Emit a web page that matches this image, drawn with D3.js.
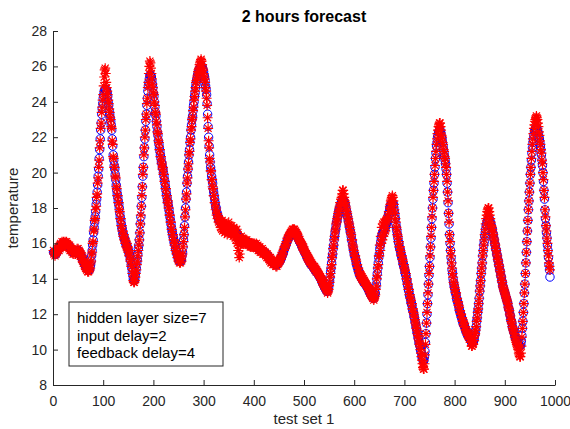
<!DOCTYPE html>
<html><head><meta charset="utf-8">
<script src="https://cdn.jsdelivr.net/npm/d3@7"></script>
<style>html,body{margin:0;padding:0;background:#fff;}svg{display:block;}</style>
</head><body>
<script>
const titleText = "2 hours forecast";
const xLabel = "test set 1";
const yLabel = "temperature";
const legendLines = ["hidden layer size=7", "input delay=2", "feedback delay=4"];
const xTicks = [0,100,200,300,400,500,600,700,800,900,1000];
const yTicks = [8,10,12,14,16,18,20,22,24,26,28];

// target (blue circles), one value per test sample 1..990
const target = [
15.5,15.5,15.5,15.4,15.4,15.4,15.5,15.5,15.6,15.6,
15.7,15.7,15.8,15.8,15.9,15.9,15.9,16.0,16.0,16.0,
16.0,16.0,16.0,16.0,16.0,16.0,16.0,15.9,15.9,15.9,
15.9,15.8,15.8,15.7,15.7,15.7,15.6,15.6,15.5,15.5,
15.5,15.5,15.5,15.5,15.5,15.5,15.5,15.6,15.6,15.6,
15.6,15.5,15.5,15.4,15.4,15.3,15.2,15.2,15.1,15.0,
15.0,14.9,14.8,14.8,14.7,14.7,14.6,14.6,14.5,14.5,
14.5,14.5,14.5,14.7,14.8,15.0,15.3,15.6,15.9,16.2,
16.6,16.9,17.2,17.5,17.8,18.2,18.5,18.9,19.3,19.8,
20.2,20.8,21.3,21.9,22.4,22.8,23.3,23.6,23.9,24.2,
24.4,24.6,24.7,24.7,24.7,24.7,24.6,24.5,24.3,24.0,
23.8,23.5,23.3,23.1,22.9,22.7,22.4,21.9,21.5,21.0,
20.7,20.4,20.2,19.9,19.6,19.3,19.0,18.8,18.6,18.4,
18.2,18.0,17.7,17.5,17.3,17.1,16.9,16.8,16.6,16.5,
16.4,16.3,16.2,16.1,16.0,15.9,15.9,15.8,15.7,15.6,
15.5,15.4,15.3,15.1,15.0,14.8,14.6,14.4,14.2,14.0,
13.9,13.9,14.0,14.2,14.4,14.6,14.9,15.1,15.4,15.7,
15.9,16.2,16.6,17.1,17.5,18.1,18.6,19.2,19.8,20.3,
20.9,21.4,21.9,22.4,22.9,23.3,23.8,24.2,24.6,24.9,
25.1,25.3,25.5,25.5,25.5,25.4,25.2,25.0,24.8,24.5,
24.3,24.0,23.7,23.4,23.2,22.9,22.6,22.3,22.1,21.8,
21.6,21.4,21.2,21.0,20.8,20.6,20.5,20.3,20.2,20.0,
19.8,19.6,19.4,19.2,19.0,18.8,18.6,18.4,18.3,18.1,
17.9,17.7,17.5,17.3,17.1,16.9,16.7,16.6,16.4,16.3,
16.1,16.0,15.9,15.7,15.6,15.5,15.4,15.3,15.2,15.1,
15.0,15.0,15.0,15.0,15.0,15.1,15.3,15.5,15.8,16.2,
16.5,17.0,17.5,18.0,18.5,18.9,19.4,19.8,20.2,20.6,
21.0,21.3,21.7,22.0,22.4,22.7,23.0,23.2,23.5,23.8,
24.0,24.3,24.5,24.8,25.0,25.2,25.3,25.5,25.6,25.7,
25.8,25.9,25.9,26.0,26.0,26.0,26.0,25.9,25.8,25.7,
25.5,25.4,25.2,24.9,24.7,24.4,23.9,23.3,22.6,22.0,
21.5,21.0,20.6,20.3,20.1,19.8,19.6,19.4,19.1,18.9,
18.7,18.5,18.3,18.1,18.0,17.8,17.7,17.6,17.5,17.4,
17.3,17.3,17.2,17.2,17.1,17.1,17.1,17.0,17.0,17.0,
17.0,17.0,16.9,16.9,16.9,16.9,16.9,16.9,16.9,16.9,
16.9,16.9,16.8,16.8,16.8,16.8,16.8,16.7,16.7,16.7,
16.7,16.7,16.6,16.6,16.6,16.6,16.5,16.5,16.4,16.4,
16.4,16.3,16.3,16.2,16.2,16.2,16.2,16.1,16.1,16.1,
16.1,16.1,16.1,16.1,16.1,16.1,16.0,16.0,16.0,16.0,
16.0,16.0,15.9,15.9,15.9,15.9,15.9,15.9,15.9,15.9,
15.9,15.9,15.9,15.9,15.9,15.8,15.8,15.8,15.7,15.7,
15.7,15.7,15.6,15.6,15.6,15.6,15.6,15.5,15.5,15.5,
15.5,15.5,15.4,15.4,15.4,15.3,15.3,15.3,15.2,15.2,
15.2,15.1,15.1,15.0,15.0,15.0,15.0,14.9,14.9,14.9,
14.9,14.9,14.8,14.8,14.8,14.8,14.8,14.9,14.9,14.9,
15.0,15.0,15.1,15.1,15.2,15.3,15.4,15.4,15.5,15.6,
15.7,15.8,15.8,15.9,16.0,16.1,16.2,16.2,16.3,16.4,
16.4,16.5,16.5,16.6,16.6,16.6,16.6,16.7,16.7,16.7,
16.7,16.6,16.6,16.5,16.5,16.4,16.4,16.3,16.3,16.2,
16.1,16.1,16.0,16.0,15.9,15.8,15.8,15.7,15.7,15.6,
15.5,15.5,15.4,15.4,15.3,15.2,15.2,15.1,15.1,15.0,
15.0,14.9,14.9,14.8,14.8,14.8,14.7,14.7,14.6,14.6,
14.6,14.5,14.5,14.4,14.4,14.4,14.3,14.3,14.2,14.2,
14.1,14.1,14.0,14.0,13.9,13.8,13.8,13.7,13.7,13.6,
13.5,13.5,13.4,13.4,13.3,13.3,13.3,13.4,13.5,13.7,
13.9,14.1,14.4,14.6,14.9,15.2,15.4,15.7,15.9,16.2,
16.4,16.6,16.8,17.0,17.2,17.3,17.5,17.6,17.8,17.9,
18.0,18.1,18.2,18.3,18.3,18.4,18.4,18.4,18.4,18.3,
18.3,18.2,18.1,17.9,17.8,17.6,17.5,17.3,17.2,17.0,
16.9,16.7,16.6,16.4,16.2,16.1,15.9,15.7,15.6,15.4,
15.3,15.2,15.1,14.9,14.8,14.7,14.6,14.5,14.4,14.3,
14.2,14.2,14.1,14.1,14.0,14.0,13.9,13.9,13.8,13.8,
13.8,13.7,13.7,13.6,13.6,13.5,13.5,13.4,13.4,13.3,
13.2,13.2,13.1,13.1,13.0,13.0,13.0,12.9,12.9,13.0,
13.1,13.2,13.5,13.7,14.0,14.3,14.6,14.9,15.2,15.4,
15.7,15.9,16.1,16.3,16.4,16.5,16.6,16.7,16.7,16.8,
16.9,16.9,17.0,17.1,17.2,17.3,17.4,17.6,17.7,17.8,
18.0,18.1,18.2,18.2,18.3,18.3,18.3,18.2,18.0,17.8,
17.6,17.4,17.1,16.9,16.7,16.5,16.3,16.1,16.0,15.8,
15.7,15.6,15.4,15.3,15.2,15.1,14.9,14.8,14.7,14.6,
14.4,14.3,14.2,14.0,13.9,13.7,13.6,13.4,13.3,13.1,
13.0,12.9,12.7,12.6,12.5,12.3,12.2,12.1,11.9,11.8,
11.6,11.5,11.3,11.2,11.0,10.9,10.7,10.6,10.4,10.3,
10.2,10.0,9.9,9.8,9.6,9.5,9.4,9.4,9.4,9.6,
9.9,10.4,10.9,11.5,12.0,12.6,13.1,13.7,14.2,14.7,
15.2,15.8,16.3,16.9,17.4,18.0,18.5,19.0,19.4,19.9,
20.3,20.8,21.1,21.5,21.7,22.0,22.1,22.3,22.3,22.4,
22.4,22.3,22.2,22.0,21.9,21.7,21.5,21.3,21.1,20.9,
20.7,20.5,20.2,19.9,19.4,18.9,18.3,17.7,17.1,16.5,
16.0,15.6,15.2,14.9,14.5,14.3,14.0,13.8,13.6,13.5,
13.3,13.2,13.1,12.9,12.8,12.7,12.6,12.5,12.3,12.2,
12.1,12.0,11.9,11.8,11.7,11.6,11.5,11.4,11.4,11.3,
11.2,11.1,11.0,11.0,10.9,10.8,10.8,10.7,10.7,10.6,
10.6,10.5,10.5,10.4,10.4,10.4,10.4,10.5,10.6,10.8,
10.9,11.1,11.3,11.6,11.8,12.1,12.3,12.6,12.9,13.3,
13.6,13.9,14.3,14.6,14.9,15.3,15.6,15.9,16.1,16.4,
16.6,16.8,17.0,17.1,17.2,17.3,17.4,17.4,17.4,17.3,
17.2,17.1,17.0,16.9,16.8,16.6,16.5,16.3,16.2,16.0,
15.9,15.7,15.6,15.4,15.3,15.1,15.0,14.8,14.7,14.5,
14.4,14.2,14.1,13.9,13.8,13.6,13.5,13.4,13.3,13.2,
13.1,13.0,12.9,12.8,12.7,12.6,12.4,12.3,12.2,12.0,
11.9,11.7,11.6,11.5,11.3,11.2,11.1,11.0,10.9,10.8,
10.7,10.6,10.6,10.5,10.4,10.4,10.3,10.3,10.2,10.2,
10.2,10.3,10.5,10.8,11.2,11.6,12.1,12.6,13.2,13.7,
14.3,14.9,15.5,16.1,16.7,17.3,17.9,18.4,18.9,19.4,
19.9,20.3,20.7,21.1,21.4,21.7,21.9,22.1,22.3,22.4,
22.5,22.5,22.5,22.5,22.4,22.3,22.2,22.0,21.9,21.7,
21.5,21.3,21.0,20.7,20.4,20.0,19.5,19.0,18.5,17.9,
17.4,17.0,16.6,16.3,15.9,15.6,15.2,14.8,14.5,14.1
];

// network output (red asterisks), one value per test sample 1..990
const output = [
15.6,15.4,15.5,15.3,15.5,15.4,15.6,15.5,15.7,15.6,
15.8,15.6,15.9,15.7,16.0,15.9,15.8,16.1,15.9,16.0,
16.1,15.9,16.0,16.1,15.9,16.0,16.1,15.8,16.0,15.8,
15.9,15.7,15.9,15.6,15.8,15.6,15.7,15.5,15.6,15.4,
15.6,15.4,15.6,15.5,15.4,15.6,15.5,15.7,15.5,15.7,
15.5,15.6,15.4,15.5,15.3,15.4,15.1,15.3,15.0,15.1,
14.9,15.0,14.7,14.9,14.6,14.8,14.5,14.7,14.4,14.6,
14.4,14.6,14.5,14.6,14.9,15.0,15.4,15.5,16.0,16.1,
16.7,16.8,17.3,17.4,17.9,18.1,18.6,18.8,19.4,19.7,
20.3,20.7,21.4,21.8,22.5,22.8,23.4,23.7,24.1,24.4,
24.9,25.4,25.8,25.9,25.6,25.1,24.8,24.6,24.4,24.1,
23.9,23.6,23.4,23.1,23.0,22.6,22.5,21.8,21.6,20.9,
20.8,20.3,20.3,19.8,19.7,19.2,19.1,18.7,18.7,18.3,
18.3,17.9,17.8,17.4,17.4,17.0,17.0,16.7,16.7,16.4,
16.5,16.2,16.3,16.0,16.1,15.8,16.0,15.7,15.8,15.5,
15.6,15.3,15.4,15.0,15.1,14.7,14.7,14.3,14.3,13.9,
13.8,13.8,13.9,14.1,14.3,14.5,14.8,15.0,15.3,15.6,
15.9,16.2,16.6,17.1,17.6,18.1,18.7,19.2,19.9,20.3,
21.0,21.4,22.0,22.4,23.0,23.3,23.9,24.2,24.8,25.1,
25.6,26.0,26.3,26.2,25.9,25.6,25.3,25.0,24.8,24.5,
24.4,24.0,23.8,23.4,23.3,22.9,22.7,22.3,22.2,21.8,
21.7,21.3,21.3,20.9,20.9,20.5,20.6,20.2,20.3,19.9,
19.9,19.5,19.5,19.1,19.1,18.7,18.7,18.3,18.4,18.0,
18.0,17.6,17.6,17.2,17.2,16.8,16.8,16.5,16.5,16.2,
16.2,15.9,16.0,15.6,15.7,15.4,15.5,15.2,15.3,15.0,
15.1,14.9,15.1,14.9,15.1,15.0,15.3,15.4,15.8,16.1,
16.5,16.9,17.5,17.9,18.5,18.8,19.4,19.7,20.2,20.5,
21.0,21.2,21.7,21.9,22.4,22.6,23.0,23.1,23.5,23.7,
24.1,24.3,24.6,24.8,25.1,25.2,25.4,25.5,25.7,25.8,
25.9,26.1,26.2,26.3,26.4,26.3,26.1,25.9,25.8,25.6,
25.4,25.3,25.1,24.8,24.6,24.2,23.8,23.1,22.5,21.8,
21.4,20.8,20.6,20.1,20.1,19.6,19.6,19.2,19.1,18.7,
18.7,18.3,18.3,17.9,18.0,17.6,17.7,17.4,17.5,17.2,
17.4,17.1,17.3,16.9,17.2,16.8,17.3,16.7,17.1,16.8,
17.2,16.6,17.1,16.7,16.8,17.1,16.5,17.0,16.7,17.2,
16.6,17.0,16.6,16.9,16.5,17.0,16.6,16.8,16.4,16.9,
16.5,16.8,16.3,16.7,16.2,16.8,16.0,16.5,15.6,15.9,
15.2,15.4,15.9,16.1,16.4,16.1,16.3,16.0,16.2,16.0,
16.2,16.0,16.1,16.2,16.0,16.2,16.0,16.1,15.9,16.1,
15.9,16.0,15.8,16.0,15.9,15.8,16.0,15.8,16.0,15.8,
16.0,15.8,15.9,15.8,16.0,15.7,15.8,15.9,15.6,15.8,
15.6,15.8,15.5,15.7,15.6,15.5,15.7,15.4,15.6,15.4,
15.5,15.4,15.5,15.3,15.4,15.2,15.4,15.2,15.3,15.1,
15.2,15.0,15.2,14.9,15.1,14.9,15.0,14.8,15.0,14.8,
14.9,14.8,14.9,14.7,14.9,14.7,14.9,14.8,15.0,14.9,
15.1,15.0,15.2,15.1,15.3,15.3,15.5,15.4,15.6,15.6,
15.8,15.8,15.9,15.9,16.1,16.1,16.3,16.2,16.4,16.4,
16.5,16.5,16.6,16.6,16.7,16.6,16.8,16.7,16.8,16.7,
16.8,16.6,16.7,16.5,16.6,16.4,16.5,16.3,16.4,16.2,
16.2,16.1,16.1,16.0,16.0,15.8,15.9,15.7,15.8,15.6,
15.6,15.5,15.5,15.4,15.4,15.2,15.3,15.1,15.2,15.0,
15.1,14.9,15.0,14.8,14.9,14.8,14.8,14.7,14.7,14.6,
14.7,14.5,14.6,14.4,14.5,14.4,14.4,14.3,14.3,14.2,
14.2,14.1,14.1,14.0,14.0,13.8,13.9,13.7,13.8,13.6,
13.6,13.5,13.5,13.4,13.4,13.3,13.2,13.3,13.4,13.6,
13.8,14.1,14.3,14.6,14.8,15.2,15.4,15.7,15.9,16.2,
16.4,16.7,16.8,17.1,17.2,17.4,17.5,17.7,17.8,18.0,
18.1,18.3,18.3,18.5,18.6,18.8,19.0,19.0,18.8,18.6,
18.4,18.3,18.1,18.0,17.8,17.7,17.5,17.4,17.2,17.1,
16.9,16.8,16.6,16.5,16.2,16.2,15.9,15.8,15.6,15.5,
15.3,15.3,15.1,15.0,14.8,14.8,14.6,14.6,14.4,14.4,
14.2,14.3,14.1,14.2,14.0,14.1,13.9,14.0,13.8,13.9,
13.8,13.8,13.7,13.7,13.6,13.6,13.5,13.5,13.4,13.4,
13.2,13.3,13.1,13.2,13.0,13.1,12.9,13.0,12.8,12.9,
13.0,13.1,13.4,13.6,14.0,14.2,14.6,14.8,15.3,15.3,
15.9,15.6,16.4,16.0,16.9,16.2,17.1,16.4,17.2,16.6,
17.2,16.7,17.3,16.9,17.4,17.2,17.5,17.5,17.8,17.8,
18.1,18.2,18.4,18.5,18.6,18.7,18.6,18.4,18.2,17.9,
17.7,17.4,17.2,16.9,16.8,16.5,16.4,16.1,16.1,15.8,
15.8,15.6,15.5,15.3,15.3,15.1,15.0,14.8,14.8,14.6,
14.5,14.3,14.3,14.0,14.0,13.7,13.7,13.4,13.4,13.1,
13.1,12.9,12.8,12.6,12.6,12.3,12.3,12.1,12.0,11.8,
11.7,11.5,11.4,11.2,11.1,10.9,10.8,10.6,10.5,10.3,
10.2,10.0,9.8,9.6,9.4,9.2,9.0,8.9,8.9,9.2,
9.7,10.3,10.9,11.5,12.1,12.6,13.2,13.7,14.3,14.7,
15.3,15.8,16.4,16.9,17.5,18.0,18.6,19.0,19.5,19.9,
20.4,20.8,21.2,21.6,21.9,22.2,22.4,22.6,22.7,22.8,
22.8,22.6,22.4,22.1,22.0,21.7,21.6,21.3,21.2,20.9,
20.8,20.5,20.3,19.9,19.5,18.9,18.4,17.7,17.2,16.5,
16.1,15.6,15.3,14.9,14.6,14.3,14.1,13.8,13.7,13.5,
13.4,13.2,13.2,12.9,12.9,12.7,12.7,12.5,12.4,12.2,
12.2,12.0,12.0,11.8,11.8,11.6,11.6,11.4,11.5,11.3,
11.3,11.1,11.1,11.0,11.0,10.8,10.9,10.7,10.8,10.6,
10.6,10.4,10.4,10.2,10.2,10.3,10.3,10.5,10.5,10.8,
10.9,11.1,11.3,11.6,11.8,12.1,12.3,12.6,12.9,13.3,
13.6,13.9,14.3,14.6,14.9,15.3,15.6,15.9,16.2,16.5,
16.8,17.1,17.4,17.6,17.8,17.9,18.0,18.0,17.8,17.6,
17.4,17.2,17.0,16.9,16.8,16.6,16.5,16.3,16.2,16.0,
15.9,15.7,15.6,15.4,15.3,15.1,15.0,14.8,14.7,14.5,
14.4,14.2,14.1,13.9,13.8,13.6,13.5,13.4,13.3,13.2,
13.1,13.0,12.9,12.8,12.7,12.6,12.4,12.3,12.2,12.0,
11.9,11.7,11.6,11.5,11.3,11.2,11.1,11.0,10.9,10.7,
10.6,10.5,10.4,10.3,10.2,10.1,10.0,9.8,9.7,9.6,
9.6,9.8,10.2,10.7,11.2,11.6,12.1,12.6,13.2,13.7,
14.3,14.9,15.5,16.1,16.7,17.3,17.9,18.4,18.9,19.4,
19.9,20.3,20.8,21.2,21.6,21.9,22.2,22.5,22.7,22.9,
23.0,23.1,23.2,23.1,23.0,22.8,22.6,22.3,22.1,21.8,
21.6,21.3,21.1,20.7,20.5,20.0,19.6,19.0,18.6,17.9,
17.5,17.0,16.7,16.3,16.0,15.6,15.3,14.9,14.7,14.5
];

const W = 570, H = 429;
const FONT = "'Liberation Sans', Arial, Helvetica, sans-serif";
const axisColor = "#262626";

const svg = d3.select("body").append("svg").attr("width", W).attr("height", H)
  .style("font-family", FONT);
svg.append("rect").attr("width", W).attr("height", H).attr("fill", "#fff");

const x = d3.scaleLinear().domain([0, 1000]).range([53, 555]);
const y = d3.scaleLinear().domain([8, 28]).range([385, 31]);

// markers: blue circles first, red asterisks on top
const gData = svg.append("g");
gData.selectAll("circle.t").data(target).join("circle")
  .attr("class", "t")
  .attr("cx", (d, i) => x(i + 1)).attr("cy", d => y(d))
  .attr("r", 4.2).attr("fill", "none").attr("stroke", "#0000ff").attr("stroke-width", 1);

const r = 5, a = r * 0.7071;
const star = `M${-r},0H${r}M0,${-r}V${r}M${-a},${-a}L${a},${a}M${-a},${a}L${a},${-a}`;
gData.selectAll("path.o").data(output).join("path")
  .attr("class", "o")
  .attr("transform", (d, i) => `translate(${x(i + 1)},${y(d)})`)
  .attr("d", star).attr("fill", "none").attr("stroke", "#ff0000").attr("stroke-width", 1.2);

// axes (inward ticks, no box)
const gx = svg.append("g").attr("transform", `translate(0,${y(8)})`)
  .call(d3.axisBottom(x).tickValues(xTicks).tickFormat(d3.format("d"))
    .tickSizeInner(-5).tickSizeOuter(0).tickPadding(11));
const gy = svg.append("g").attr("transform", `translate(${x(0)},0)`)
  .call(d3.axisLeft(y).tickValues(yTicks).tickFormat(d3.format("d"))
    .tickSizeInner(-5).tickSizeOuter(0).tickPadding(6));
[gx, gy].forEach(g => {
  g.select(".domain").attr("stroke", axisColor).attr("stroke-width", 1);
  g.selectAll(".tick line").attr("stroke", axisColor).attr("stroke-width", 1);
  g.selectAll(".tick text").attr("fill", axisColor).style("font-size", "14px")
    .style("font-family", FONT);
});

// title and labels
svg.append("text").attr("x", 304).attr("y", 22).attr("text-anchor", "middle")
  .style("font-size", "16px").style("font-weight", "bold").attr("fill", "#000")
  .text(titleText);
svg.append("text").attr("x", 304).attr("y", 424).attr("text-anchor", "middle")
  .style("font-size", "15px").attr("fill", axisColor).text(xLabel);
svg.append("text").attr("transform", `translate(18,${(y(8) + y(28)) / 2}) rotate(-90)`)
  .attr("text-anchor", "middle").style("font-size", "15px").attr("fill", axisColor).text(yLabel);

// annotation box
const box = svg.append("g").attr("transform", "translate(69,302)");
box.append("rect").attr("width", 154).attr("height", 64)
  .attr("fill", "#fff").attr("stroke", axisColor).attr("stroke-width", 1);
box.selectAll("text").data(legendLines).join("text")
  .attr("x", 8).attr("y", (d, i) => 21 + i * 17.5)
  .style("font-size", "15px").attr("fill", "#000").text(d => d);
</script>
</body></html>
